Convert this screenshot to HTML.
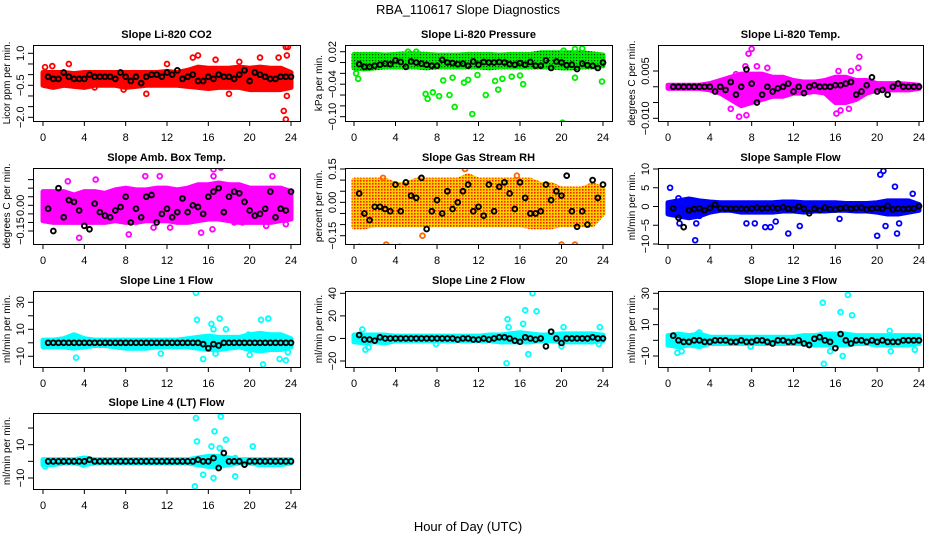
<!DOCTYPE html>
<html><head><meta charset="utf-8"><style>
body{margin:0;background:#fff}
svg{display:block}
text{font-family:"Liberation Sans",Arial,sans-serif;fill:#000}
</style></head><body>
<svg id="chart" width="936" height="540" viewBox="0 0 936 540">
<defs>
<pattern id="patRH" width="3" height="3" patternUnits="userSpaceOnUse"><rect width="3" height="3" fill="#ffd000"/><rect x="0" y="0" width="1.6" height="1.6" fill="#ff2000"/></pattern>
<pattern id="patP" width="3" height="3" patternUnits="userSpaceOnUse"><rect width="3" height="3" fill="#00ee00"/><rect x="0" y="0" width="1.2" height="1.2" fill="#004400"/></pattern>
</defs>
<text x="468" y="14" text-anchor="middle" font-size="13">RBA_110617  Slope Diagnostics</text>
<text x="468" y="531" text-anchor="middle" font-size="13">Hour of Day (UTC)</text>
</svg>
<script>
// ---- data ----
const xTicks = [0,4,8,12,16,20,24];
const panelTitles = ["Slope Li-820 CO2","Slope Li-820 Pressure","Slope Li-820 Temp.","Slope Amb. Box Temp.","Slope Gas Stream RH","Slope Sample Flow","Slope Line 1 Flow","Slope Line 2 Flow","Slope Line 3 Flow","Slope Line 4 (LT) Flow"];
const yTitles = ["Licor ppm per min.","kPa per min.","degrees C per min.","degrees C per min.","percent per min.","ml/min per min.","ml/min per min.","ml/min per min.","ml/min per min.","ml/min per min."];

const lo1 = [-0.5,-0.6,-0.5,-0.55,-0.6,-0.5,-0.5,-0.5,-0.6,-0.55,-0.5,-0.5,-0.5,-0.5,-0.55,-0.6,-0.65,-0.6,-0.6,-0.6,-0.7,-0.7,-0.7,-0.7,-0.6];
const hi1 = [0.1,0.1,0.1,0.05,0.1,0.1,0.1,0.1,0.1,0.1,0.1,0.1,0.15,0.1,0.2,0.35,0.3,0.3,0.3,0.35,0.3,0.35,0.3,0.3,0.1];
const ox1 = [0.2,0.9,2.5,14.5,15,16.7,18,21,10,22.8,23.3,23.5,23.6,23.7,23.5,23.6,19,7.8,5,12];
const oy1 = [0.35,0.4,0.5,0.8,0.9,0.7,-0.9,0.8,-0.9,0.8,-1.7,-2.1,0.9,1.3,1.3,-1.0,0.6,-0.7,-0.6,0.5];
const black1 = [-0.1,-0.2,-0.2,0.1,-0.1,-0.2,-0.2,-0.2,0,-0.1,-0.1,-0.1,-0.1,-0.2,0.1,-0.1,-0.3,-0.1,-0.4,-0.1,0,0,-0.1,0.1,0,0.2,-0.2,-0.1,0,-0.3,-0.3,-0.1,-0.2,0,-0.1,-0.1,-0.2,0,0.2,-0.3,0.1,0,-0.1,-0.2,-0.2,-0.1,-0.1,-0.1];

const lo2 = [-0.01,-0.012,-0.01,-0.008,-0.008,-0.008,-0.008,-0.01,-0.008,-0.008,-0.008,-0.008,-0.008,-0.01,-0.008,-0.008,-0.008,-0.008,-0.008,-0.008,-0.01,-0.01,-0.008,-0.008,-0.006];
const hi2 = [0.015,0.015,0.015,0.014,0.015,0.016,0.016,0.015,0.014,0.014,0.014,0.015,0.015,0.015,0.014,0.015,0.015,0.015,0.018,0.018,0.018,0.018,0.018,0.016,0.014];
const ox2 = [0.2,0.4,6.9,7.1,7.6,8.2,8.6,9.2,9.7,9.5,10.6,11.0,11.4,11.9,12.7,13.6,13.9,14.3,15.2,16.0,16.3,20.1,21.3,23.9,5.2,6.0,20.2,21.3,22.0];
const oy2 = [-0.02,-0.03,-0.058,-0.067,-0.055,-0.062,-0.033,-0.06,-0.082,-0.028,-0.037,-0.032,-0.095,-0.023,-0.06,-0.034,-0.05,-0.03,-0.026,-0.024,-0.04,-0.111,-0.028,-0.035,0.02,0.02,0.022,0.025,0.026];
const black2 = [-0.003,-0.008,-0.008,-0.006,-0.004,-0.002,-0.003,0.004,0.001,-0.008,0.002,0,-0.002,-0.004,-0.006,-0.006,0.005,0,-0.001,-0.003,-0.002,-0.006,0.002,-0.004,0.001,0,0,0.001,0,-0.003,-0.004,-0.001,-0.004,0.001,-0.006,-0.006,0.004,-0.01,0.002,0,-0.005,-0.004,-0.012,-0.002,-0.005,-0.006,-0.01,0];

const lo3 = [-0.0005,-0.0005,-0.0005,-0.0005,-0.001,-0.002,-0.004,-0.006,-0.005,-0.004,-0.003,-0.003,-0.002,-0.002,-0.0015,-0.002,-0.005,-0.005,-0.004,-0.002,-0.001,-0.001,-0.001,-0.001,-0.0005];
const hi3 = [0.0005,0.0005,0.0005,0.0005,0.001,0.002,0.003,0.004,0.004,0.004,0.003,0.003,0.002,0.0015,0.0015,0.002,0.003,0.003,0.002,0.002,0.001,0.001,0.001,0.0008,0.0005];
const ox3 = [6.0,6.8,7.5,7.7,8.0,7.4,8.5,9.5,6.5,16.1,16.5,17.3,18.3,18.2,16.3,17.5];
const oy3 = [-0.007,-0.0095,-0.009,0.0105,0.012,0.0065,0.0065,0.006,0.004,-0.0085,-0.0075,-0.007,0.0095,0.006,0.005,0.005];
const black3 = [0,0,0,0,0,0,0,0,-0.0015,0,-0.001,0.0015,-0.0025,0,0.0055,0.001,-0.005,-0.0025,0,-0.0015,-0.0005,0,0.001,-0.0015,0,-0.002,0,0.0005,0,0,0,0.0005,0.0005,0.001,0.0015,-0.0025,-0.0015,0.0005,0.003,-0.0015,-0.001,-0.0025,0,0.001,0,0,0,0];

const lo4 = [-0.09,-0.1,-0.1,-0.1,-0.1,-0.1,-0.1,-0.09,-0.1,-0.1,-0.09,-0.09,-0.09,-0.1,-0.1,-0.09,-0.08,-0.08,-0.09,-0.1,-0.1,-0.1,-0.1,-0.09,-0.08];
const hi4 = [0.08,0.08,0.08,0.06,0.08,0.08,0.07,0.09,0.1,0.09,0.09,0.1,0.1,0.09,0.1,0.12,0.12,0.13,0.12,0.12,0.1,0.1,0.1,0.1,0.08];
const ox4 = [3.5,8.3,10.7,12.3,15.3,16.4,16.5,17.2,16.5,2.4,5.1,9.9,11.3,19.3,22.2,23.5,21.6,18.5];
const oy4 = [-0.19,-0.17,-0.13,-0.13,-0.16,-0.14,0.21,0.22,0.17,0.14,0.15,0.17,0.17,-0.1,0.17,-0.11,-0.12,-0.1];
const black4 = [-0.02,-0.15,0.1,-0.07,0.03,0.02,-0.03,-0.12,-0.14,0.01,-0.04,-0.06,-0.07,-0.03,-0.01,0.05,-0.1,-0.02,-0.07,0.05,0.06,-0.1,-0.05,-0.02,-0.07,-0.04,0.04,-0.04,0,-0.01,-0.05,0.05,0.08,0.1,-0.04,0.05,0.08,0.07,0.02,-0.03,-0.06,-0.05,-0.02,0.08,-0.07,-0.02,-0.03,0.08];

const lo5 = [-0.11,-0.11,-0.1,-0.1,-0.1,-0.1,-0.1,-0.1,-0.1,-0.1,-0.1,-0.1,-0.1,-0.1,-0.1,-0.1,-0.1,-0.11,-0.11,-0.11,-0.1,-0.1,-0.1,-0.1,-0.05];
const hi5 = [0.1,0.1,0.1,0.1,0.08,0.08,0.1,0.1,0.1,0.1,0.1,0.12,0.1,0.1,0.1,0.1,0.1,0.1,0.08,0.08,0.06,0.06,0.06,0.08,0.06];
const ox5 = [0.5,3.1,4.4,6.6,8.3,10.7,11.0,16.5,17.4,20.0,21.0,21.3,2.8,15.7];
const oy5 = [-0.2,-0.19,-0.2,-0.15,0.17,0.15,0.24,-0.26,-0.23,-0.19,0.2,-0.19,0.11,0.12];
const black5 = [0.04,-0.05,-0.08,-0.02,-0.02,-0.03,-0.04,0.08,-0.04,0.09,0.03,0.02,0.11,-0.12,-0.04,0.01,-0.05,0.05,-0.03,0,0.05,0.08,-0.04,-0.02,-0.06,0.08,-0.04,0.07,0.09,0.04,-0.03,0.09,0.02,-0.05,-0.05,-0.04,0.08,0.01,0.05,0.03,0.12,-0.04,-0.11,-0.04,-0.1,0.1,0.02,0.08];

const lo6 = [-2,-2.5,-3,-2.5,-1.5,-1,-1,-1.5,-1.5,-1.5,-1.5,-1.2,-1.2,-1.5,-1.2,-1.2,-1,-1,-1.2,-1.2,-1.5,-2,-2,-1.5,-1];
const hi6 = [1,1.5,2,1.5,1.2,1,1,1,1,1,1,1.2,1.2,1,1,1,1,0.8,0.8,0.8,1,1.5,1.5,1.5,0.5];
const ox6 = [0.2,1.1,2.6,2.7,7.5,8.3,9.3,9.8,11.5,12.6,16.4,20.0,20.3,20.6,20.8,21.7,21.9,22.1,23.4,3.0,10.3,1.0];
const oy6 = [5,-4.5,-9,-4.5,-4.5,-4.5,-5.5,-5.5,-7.2,-5.2,-3.3,-7.8,8.5,9.5,-5.2,5.3,-7.2,-4.5,3.4,-2.5,-4,2.2];
const black6 = [-0.5,-3,-5.5,-1,-0.7,-0.5,-1,-0.4,0.5,-0.4,-0.5,-0.6,-0.6,-0.6,-0.7,-0.5,-0.3,-0.5,-0.4,-0.3,-0.5,-0.2,-0.6,-0.8,0,-0.6,-1.8,-0.6,-1,-0.3,-0.7,-0.8,-0.5,-0.3,-0.6,-0.4,-0.3,-0.8,-0.6,-0.4,-0.6,0.2,-0.8,-0.6,-0.7,-0.6,-0.5,0.1];

const lo7 = [-3,-3,-3,-4,-3,-2,-2,-3,-4,-4,-4,-3,-3,-3,-3,-4,-5,-5,-4,-3,-5,-6,-5,-5,-3];
const hi7 = [2,2,3,6,3,2,2,2,2,2,2,2,2,2,3,4,5,4,4,4,6,7,6,6,3];
const ox7 = [3.2,14.8,14.9,15.5,16.3,16.5,17.1,17.7,21.1,21.8,22.9,23.5,23.7,20.0,21.3,19.9,16.7,11.4];
const oy7 = [-11,37,17,-12,14,10,18,10,17,18,-12,-13,-7,-9,-16,6,-8,-8];
const black7 = [0,0,0,0,0,0,0,0,0,0,0,0,0,0,0,0,0,0,0,0,0,0,0,0,0,0,0,0,0,0,-1,-4,-1,-2,0,0,0,0,0,0,0,0,0,0,0,0,0,0];

const lo8 = [-3,-4,-3,-4,-2,-2,-2,-2,-2,-2,-2,-2,-2,-2,-3,-3,-3,-3,-2,-2,-3,-3,-3,-3,-2];
const hi8 = [3,3,3,3,2,2,2,2,2,2,2,2,2,3,3,4,5,4,3,3,4,4,4,4,3];
const ox8 = [0.8,1.1,1.4,14.7,14.8,14.9,16.3,16.5,16.8,17.2,17.6,20.0,20.2,23.7,7.9,23.6];
const oy8 = [8,-10,-8,-22,17,10,13,25,-14,40,24,-7,10,10,-5,-5];
const black8 = [3,-1,-1,-2,1,0,0,0,0,0,0,0,0,0,0,0,0,0,0,-1,0,0,-1,-1,0,-1,0,1,1,0,-2,-3,1,0,-1,0,-7,6,0,-4,0,0,0,0,0,1,0,0];

const lo9 = [-3,-4,-3,-4,-2,-2,-2,-2,-2,-2,-2,-2,-2,-2,-3,-3,-3,-3,-2,-2,-3,-3,-3,-3,-2];
const hi9 = [3,4,3,4,2,2,2,2,2,2,2,2,2,3,3,4,4,4,3,3,3,3,3,3,3];
const ox9 = [0.9,1.3,2.8,3.0,14.8,14.9,15.5,16.5,16.7,17.2,17.6,21.3,21.2,23.6,7.9];
const oy9 = [-8,-7,4,5,24,-15,-7,18,-10,29,16,-7,6,-6,-4];
const black9 = [3,0,-1,-1,0,0,-1,-1,0,0,0,-1,-1,0,-1,-1,0,0,-1,-2,0,0,-1,-1,0,-2,-3,1,2,0,-1,-5,4,0,-2,0,0,-1,0,-1,0,-1,-1,-1,0,0,0,0];

const lo10 = [-2,-2,-1,-1,-2,-1,-1,-1,-1,-1,-1,-1,-1,-1,-1,-2,-3,-3,-2,-1,-1,-2,-2,-2,-1];
const hi10 = [1,1,1,1,2,1,1,1,1,1,1,1,1,1,1,2,3,3,2,1,1,1,1,1,1];
const ox10 = [0.2,3.9,14.8,14.9,15.5,16.3,16.5,16.6,17.1,17.2,17.7,18.6,20.3,14.7,18.6];
const oy10 = [-3,-2,26,12,-8,9,-10,18,8,27,13,-9,9,-15,2];
const black10 = [0,0,0,0,0,0,0,0,1,0,0,0,0,0,0,0,0,0,0,0,0,0,0,0,0,0,0,0,0,1,0,0,2,-4,5,0,0,0,-2,0,0,0,0,0,0,0,0,0];

// ---- layout (geometry only) ----
const cols = [{L:33,R:300,x0:43,x24:291},{L:345,R:612,x0:354,x24:603},{L:658,R:923,x0:668,x24:919}];
const rows = [45,168,291,413];
const BOXH = 76;
const panels = [
 {c:0,r:0,col:"#ff0000",cloud:"#ff0000",lo:lo1,hi:hi1,ox:ox1,oy:oy1,bk:black1,v0:1.0,p0:53.3,v1:-2.0,p1:117.3,ticks:[1,0.5,0,-0.5,-1,-1.5,-2],labs:[1.0,-0.5,-2.0],fmt:v=>v.toFixed(1)},
 {c:1,r:0,col:"#00ee00",cloud:"url(#patP)",lo:lo2,hi:hi2,ox:ox2,oy:oy2,bk:black2,v0:0.02,p0:51.7,v1:-0.10,p1:116.7,ticks:[0.02,0,-0.02,-0.04,-0.06,-0.08,-0.10],labs:[0.02,-0.04,-0.10],fmt:v=>v.toFixed(2)},
 {c:2,r:0,col:"#ff00ff",cloud:"#ff00ff",lo:lo3,hi:hi3,ox:ox3,oy:oy3,bk:black3,v0:0.005,p0:71,v1:-0.010,p1:118.3,ticks:[0.005,0,-0.005,-0.010],labs:[0.005,-0.010],fmt:v=>v.toFixed(3)},
 {c:0,r:1,col:"#ff00ff",cloud:"#ff00ff",lo:lo4,hi:hi4,ox:ox4,oy:oy4,bk:black4,v0:0,p0:205.3,v1:-0.15,p1:231,ticks:[0.15,0.1,0.05,0,-0.05,-0.1,-0.15],labs:[0.00,-0.15],fmt:v=>v.toFixed(2)},
 {c:1,r:1,col:"#ff6600",cloud:"url(#patRH)",lo:lo5,hi:hi5,ox:ox5,oy:oy5,bk:black5,v0:0.15,p0:169,v1:-0.15,p1:235.7,ticks:[0.15,0.1,0.05,0,-0.05,-0.1,-0.15],labs:[0.15,0.00,-0.15],fmt:v=>v.toFixed(2)},
 {c:2,r:1,col:"#0000ff",cloud:"#0000ff",lo:lo6,hi:hi6,ox:ox6,oy:oy6,bk:black6,v0:10,p0:169,v1:-10,p1:244,ticks:[10,5,0,-5,-10],labs:[10,5,0,-5,-10],fmt:v=>String(v)},
 {c:0,r:2,col:"#00ffff",cloud:"#00ffff",lo:lo7,hi:hi7,ox:ox7,oy:oy7,bk:black7,v0:30,p0:302.3,v1:-10,p1:356.3,ticks:[30,20,10,0,-10],labs:[30,10,-10],fmt:v=>String(v)},
 {c:1,r:2,col:"#00ffff",cloud:"#00ffff",lo:lo8,hi:hi8,ox:ox8,oy:oy8,bk:black8,v0:40,p0:293.3,v1:-20,p1:361,ticks:[40,20,0,-20],labs:[40,20,0,-20],fmt:v=>String(v)},
 {c:2,r:2,col:"#00ffff",cloud:"#00ffff",lo:lo9,hi:hi9,ox:ox9,oy:oy9,bk:black9,v0:30,p0:293.3,v1:-10,p1:356,ticks:[30,20,10,0,-10],labs:[30,10,-10],fmt:v=>String(v)},
 {c:0,r:3,col:"#00ffff",cloud:"#00ffff",lo:lo10,hi:hi10,ox:ox10,oy:oy10,bk:black10,v0:10,p0:444.7,v1:-10,p1:478,ticks:[20,10,0,-10],labs:[10,-10],fmt:v=>String(v)}
];
const NS="http://www.w3.org/2000/svg";
const svg=document.getElementById('chart');
function mk(tag,attrs,parent){const e=document.createElementNS(NS,tag);for(const k in attrs)e.setAttribute(k,attrs[k]);(parent||svg).appendChild(e);return e;}

panels.forEach((p,i)=>{
  const C=cols[p.c], T=rows[p.r], B=T+BOXH;
  const xs=h=>C.x0+(C.x24-C.x0)*h/24;
  const ys=v=>p.p0+(v-p.v0)*(p.p1-p.p0)/(p.v1-p.v0);
  const g=mk('g',{});
  
  
  const clip=mk('clipPath',{id:'cl'+i},g);
  mk('rect',{x:C.L,y:T,width:C.R-C.L,height:BOXH},clip);
  const pg=mk('g',{'clip-path':'url(#cl'+i+')'},g);
  let pts=[];
  p.lo.forEach((v,h)=>pts.push(xs(h)+','+ys(v)));
  for(let h=p.hi.length-1;h>=0;h--)pts.push(xs(h)+','+ys(p.hi[h]));
  const band=mk('polygon',{points:pts.join(' '),fill:p.cloud,stroke:p.cloud,'stroke-width':5,'stroke-linejoin':'round'},pg);
  
  
  p.ox.forEach((x,k)=>{
    const c=mk('circle',{cx:xs(x),cy:ys(p.oy[k]),r:2.4,fill:'none',stroke:p.col,'stroke-width':1.8},pg);
    
    
  });
  p.bk.forEach((v,k)=>{
    const c=mk('circle',{cx:xs((k+1)*0.5),cy:ys(v),r:2.4,fill:'none',stroke:'#000','stroke-width':1.9},pg);
    
    
  });
  const box=mk('rect',{x:C.L+0.5,y:T+0.5,width:C.R-C.L,height:BOXH,fill:'none',stroke:'#000','stroke-width':1},g);
  
  
  const t=mk('text',{x:(C.L+C.R)/2,y:T-7,'text-anchor':'middle','font-size':11,'font-weight':'bold'},g);
  t.textContent=panelTitles[i];
  
  
  mk('line',{x1:xs(0),x2:xs(24),y1:B+0.5,y2:B+0.5,stroke:'#000'},g);
  xTicks.forEach(h=>{
    mk('line',{x1:xs(h),x2:xs(h),y1:B,y2:B+5,stroke:'#000'},g);
    const l=mk('text',{x:xs(h),y:B+20,'text-anchor':'middle','font-size':11},g);
    l.textContent=h;
    
    
  });
  const tv=p.ticks.map(ys);
  mk('line',{x1:C.L+0.5,x2:C.L+0.5,y1:Math.min(...tv),y2:Math.max(...tv),stroke:'#000'},g);
  p.ticks.forEach(v=>mk('line',{x1:C.L-5,x2:C.L,y1:ys(v),y2:ys(v),stroke:'#000'},g));
  p.labs.forEach(v=>{
    const X=C.L-9,Y=ys(v);
    const l=mk('text',{x:X,y:Y,'text-anchor':'middle','font-size':11,transform:'rotate(-90 '+X+' '+Y+')'},g);
    l.textContent=p.fmt(v).replace('-','\u2212');
    
    
  });
  const YX=C.L-23,YY=T+BOXH/2;
  const yt=mk('text',{x:YX,y:YY,'text-anchor':'middle','font-size':10,transform:'rotate(-90 '+YX+' '+YY+')'},g);
  yt.textContent=yTitles[i];
  
  
});
</script>
</body></html>
